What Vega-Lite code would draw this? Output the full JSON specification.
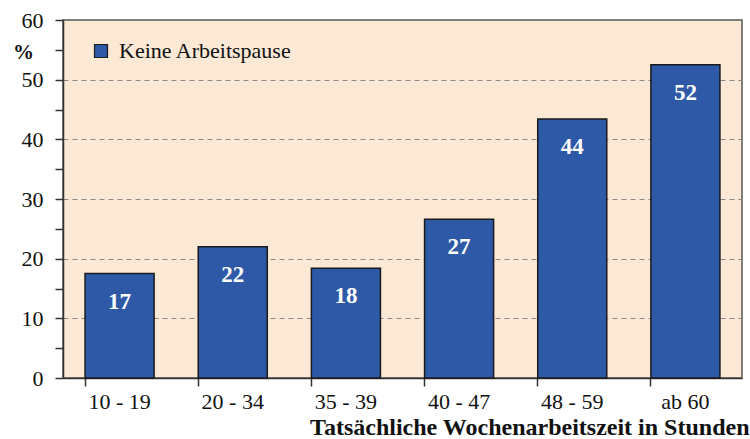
{
  "$schema": "https://vega.github.io/schema/vega-lite/v6.json",
  "width": 679,
  "height": 358,
  "autosize": {"type": "none"},
  "padding": {"left": 63, "top": 20, "right": 8, "bottom": 61},
  "background": "white",
  "config": {
    "font": "Liberation Serif",
    "view": {"fill": "#FBE9D5", "stroke": "#555555", "strokeWidth": 1.5}
  },
  "data": {
    "values": [
      {"kat": "10 - 19", "wert": 17.5, "label": "17", "serie": "Keine Arbeitspause"},
      {"kat": "20 - 34", "wert": 22.0, "label": "22", "serie": "Keine Arbeitspause"},
      {"kat": "35 - 39", "wert": 18.4, "label": "18", "serie": "Keine Arbeitspause"},
      {"kat": "40 - 47", "wert": 26.6, "label": "27", "serie": "Keine Arbeitspause"},
      {"kat": "48 - 59", "wert": 43.4, "label": "44", "serie": "Keine Arbeitspause"},
      {"kat": "ab 60", "wert": 52.5, "label": "52", "serie": "Keine Arbeitspause"}
    ]
  },
  "encoding": {
    "x": {
      "field": "kat",
      "type": "nominal",
      "sort": null,
      "scale": {"paddingInner": 0.39, "paddingOuter": 0.195},
      "axis": {
        "title": "Tatsächliche Wochenarbeitszeit in Stunden",
        "titleFont": "Liberation Serif",
        "titleFontSize": 24,
        "titleFontWeight": "bold",
        "titleColor": "#111111",
        "titleAnchor": "end",
        "titleAlign": "right",
        "titleX": 686,
        "titleY": 56,
        "titleBaseline": "alphabetic",
        "titleLimit": 700,
        "labelAngle": 0,
        "labelFont": "Liberation Serif",
        "labelFontSize": 22,
        "labelColor": "#111111",
        "labelPadding": 5,
        "tickSize": 8,
        "tickColor": "#333333",
        "tickWidth": 1.5,
        "bandPosition": 0,
        "domainColor": "#333333",
        "domainWidth": 1.5,
        "grid": false
      }
    },
    "y": {
      "field": "wert",
      "type": "quantitative",
      "scale": {"domain": [0, 60], "nice": false},
      "axis": {
        "title": "%",
        "titleFont": "Liberation Serif",
        "titleAngle": 0,
        "titleFontSize": 21,
        "titleFontWeight": "bold",
        "titleColor": "#111111",
        "titleX": -40,
        "titleY": 32,
        "titleAlign": "center",
        "titleBaseline": "middle",
        "values": [0, 5, 10, 15, 20, 25, 30, 35, 40, 45, 50, 55, 60],
        "labelExpr": "datum.value % 10 === 0 ? datum.label : ''",
        "labelFont": "Liberation Serif",
        "labelFontSize": 22,
        "labelColor": "#111111",
        "labelPadding": 12,
        "tickSize": 8,
        "tickColor": "#333333",
        "tickWidth": 1.5,
        "domainColor": "#333333",
        "domainWidth": 1.5,
        "grid": true,
        "gridColor": "#8a8a8a",
        "gridDash": [5, 4],
        "gridWidth": 1.2,
        "gridOpacity": {"expr": "datum.value % 10 === 0 && datum.value > 0 && datum.value < 60 ? 1 : 0"}
      }
    }
  },
  "layer": [
    {
      "mark": {"type": "bar", "stroke": "#1a1a1a", "strokeWidth": 1.5},
      "encoding": {
        "color": {
          "field": "serie",
          "type": "nominal",
          "scale": {"range": ["#2D59A7"]},
          "legend": {
            "title": null,
            "orient": "none",
            "legendX": 27,
            "legendY": 20,
            "symbolType": "square",
            "symbolSize": 169,
            "symbolStrokeColor": "#1a1a1a",
            "symbolStrokeWidth": 1.2,
            "labelFont": "Liberation Serif",
            "labelFontSize": 22,
            "labelColor": "#111111",
            "labelOffset": 7,
            "labelLimit": 400,
            "padding": 0
          }
        }
      }
    },
    {
      "mark": {
        "type": "text",
        "color": "white",
        "font": "Liberation Serif",
        "fontSize": 23,
        "fontWeight": "bold",
        "baseline": "middle",
        "dy": 28
      },
      "encoding": {"text": {"field": "label"}}
    }
  ]
}
